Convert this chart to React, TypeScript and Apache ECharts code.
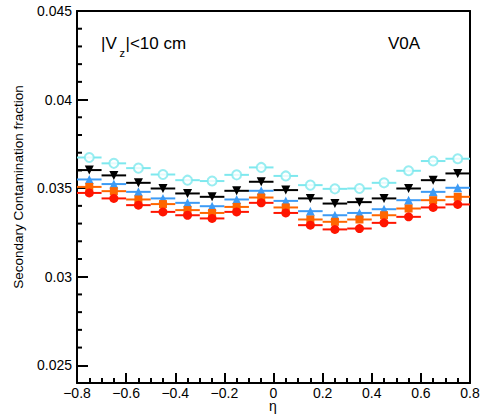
import React, { useEffect, useRef } from "react";
import * as echarts from "echarts";

const etaCenters = [-0.75, -0.65, -0.55, -0.45, -0.35, -0.25, -0.15, -0.05, 0.05, 0.15, 0.25, 0.35, 0.45, 0.55, 0.65, 0.75];
const binHalfWidth = 0.05;

const cyanValues = [0.03673, 0.0364, 0.03613, 0.03577, 0.03545, 0.0354, 0.03575, 0.03617, 0.03569, 0.03517, 0.03496, 0.03498, 0.0353, 0.03598, 0.03653, 0.03666];
const blackValues = [0.03602, 0.03572, 0.0353, 0.03498, 0.0347, 0.03451, 0.03485, 0.03536, 0.03489, 0.03442, 0.03413, 0.03421, 0.03442, 0.03498, 0.03545, 0.03583];
const blueValues = [0.03549, 0.03523, 0.03479, 0.03442, 0.03417, 0.03398, 0.03436, 0.03485, 0.03428, 0.0337, 0.03347, 0.0336, 0.03381, 0.03432, 0.03479, 0.03502];
const orangeValues = [0.03507, 0.03483, 0.03436, 0.0341, 0.03376, 0.0336, 0.03394, 0.03447, 0.03391, 0.03323, 0.0331, 0.03323, 0.03347, 0.03385, 0.03432, 0.03451];
const redValues = [0.03473, 0.03442, 0.03404, 0.03366, 0.03347, 0.03329, 0.03366, 0.03417, 0.0336, 0.03291, 0.03267, 0.03272, 0.03304, 0.03338, 0.03391, 0.03408];

const yMajorTicks = [0.025, 0.03, 0.035, 0.04, 0.045];
const yMinorTicks = [0.024, 0.026, 0.027, 0.028, 0.029, 0.031, 0.032, 0.033, 0.034, 0.036, 0.037, 0.038, 0.039, 0.041, 0.042, 0.043, 0.044];

const seriesDefs = [
  { name: "cyan", values: cyanValues, color: "#7ee8ee", symbol: "emptyCircle", rotate: 0, size: 9 },
  { name: "black", values: blackValues, color: "#000000", symbol: "triangle", rotate: 180, size: 9 },
  { name: "blue", values: blueValues, color: "#3d9bf5", symbol: "triangle", rotate: 0, size: 9 },
  { name: "orange", values: orangeValues, color: "#ff6600", symbol: "rect", rotate: 0, size: 8 },
  { name: "red", values: redValues, color: "#ff1500", symbol: "circle", rotate: 0, size: 9 },
];

const FONT = "Liberation Sans, Arial, Helvetica, sans-serif";

export default function App() {
  const ref = useRef<HTMLDivElement>(null);
  useEffect(() => {
    document.body.style.margin = "0";
    if (!ref.current) return;
    const chart = echarts.init(ref.current, null, { renderer: "svg" });
    const series: any[] = [];
    seriesDefs.forEach((s) => {
      const data = etaCenters.map((x, i) => [x, s.values[i]]);
      series.push({
        type: "custom",
        name: s.name + "-err",
        xAxisIndex: 0,
        yAxisIndex: 0,
        data,
        renderItem: (params: any, api: any) => {
          const x = api.value(0);
          const y = api.value(1);
          const p1 = api.coord([x - binHalfWidth, y]);
          const p2 = api.coord([x + binHalfWidth, y]);
          return {
            type: "line",
            shape: { x1: p1[0], y1: p1[1], x2: p2[0], y2: p2[1] },
            style: { stroke: s.color, lineWidth: 2 },
          };
        },
        z: 2,
      });
      series.push({
        type: "scatter",
        name: s.name,
        xAxisIndex: 0,
        yAxisIndex: 0,
        data,
        symbol: s.symbol,
        symbolRotate: s.rotate,
        symbolSize: s.size,
        itemStyle: s.symbol === "emptyCircle"
          ? { color: s.color, borderColor: s.color, borderWidth: 2 }
          : { color: s.color, opacity: 1 },
        z: 3,
      });
    });
    const fmt = (v: number) => {
      const r = Math.round(v * 10) / 10;
      if (r === 0) return "0";
      return (r < 0 ? "\u2212" : "") + Math.abs(r).toFixed(1);
    };
    const frameAxisCommon = {
      axisTick: { show: false },
      axisLabel: { show: false },
      splitLine: { show: false },
    };
    chart.setOption({
      animation: false,
      grid: { left: 77, right: 10, top: 11, bottom: 34, containLabel: false, outerBoundsMode: "none" },
      xAxis: [
        {
          type: "value",
          min: -0.8,
          max: 0.8,
          interval: 0.2,
          axisLine: { show: true, onZero: false, lineStyle: { color: "#000", width: 2 } },
          axisTick: { show: true, inside: true, length: 10, lineStyle: { color: "#000", width: 2 } },
          minorTick: { show: true, splitNumber: 4, length: 5, lineStyle: { color: "#000", width: 2 } },
          splitLine: { show: false },
          axisLabel: { formatter: fmt, fontSize: 14, color: "#000", fontFamily: FONT, margin: 3 },
        },
        {
          type: "value",
          position: "top",
          min: -0.8,
          max: 0.8,
          axisLine: { show: true, onZero: false, lineStyle: { color: "#000", width: 2 } },
          ...frameAxisCommon,
        },
      ],
      yAxis: [
        {
          type: "value",
          min: 0.024,
          max: 0.045,
          axisLine: { show: true, onZero: false, lineStyle: { color: "#000", width: 2 } },
          axisTick: { show: true, inside: true, length: 11, customValues: yMajorTicks, lineStyle: { color: "#000", width: 2 } },
          axisLabel: {
            customValues: yMajorTicks,
            fontSize: 14,
            color: "#000",
            fontFamily: FONT,
            margin: 5,
            formatter: (v: number) => String(parseFloat(v.toFixed(4))),
          },
          splitLine: { show: false },
        },
        {
          type: "value",
          position: "right",
          min: 0.024,
          max: 0.045,
          axisLine: { show: true, onZero: false, lineStyle: { color: "#000", width: 2 } },
          ...frameAxisCommon,
        },
      ],
      graphic: [
        {
          type: "text",
          x: 273,
          y: 406,
          style: { text: "η", fontSize: 14, fontFamily: FONT, fill: "#000", align: "center", verticalAlign: "middle" },
        },
        {
          type: "text",
          x: 18,
          y: 187,
          rotation: Math.PI / 2,
          style: {
            text: "Secondary Contamination fraction",
            fontSize: 13.5,
            fontFamily: FONT,
            fill: "#000",
            align: "center",
            verticalAlign: "middle",
          },
        },
        {
          type: "text",
          x: 101,
          y: 43,
          style: { text: "|V", fontSize: 17, fontFamily: FONT, fill: "#000", align: "left", verticalAlign: "middle" },
        },
        {
          type: "text",
          x: 119.5,
          y: 53,
          style: { text: "z", fontSize: 11, fontFamily: FONT, fill: "#000", align: "left", verticalAlign: "middle" },
        },
        {
          type: "text",
          x: 125.5,
          y: 43,
          style: { text: "|<10 cm", fontSize: 17, fontFamily: FONT, fill: "#000", align: "left", verticalAlign: "middle" },
        },
        {
          type: "text",
          x: 388,
          y: 43,
          style: { text: "V0A", fontSize: 17, fontFamily: FONT, fill: "#000", align: "left", verticalAlign: "middle" },
        },
      ],
      series: [
        ...series,
        {
          type: "custom",
          name: "y-minor-ticks",
          xAxisIndex: 0,
          yAxisIndex: 0,
          data: yMinorTicks.map((v) => [-0.8, v]),
          silent: true,
          clip: false,
          renderItem: (params: any, api: any) => {
            const p = api.coord([api.value(0), api.value(1)]);
            return {
              type: "line",
              shape: { x1: p[0], y1: p[1], x2: p[0] + 5, y2: p[1] },
              style: { stroke: "#000", lineWidth: 2 },
            };
          },
          z: 5,
        },
      ],
    });
    return () => chart.dispose();
  }, []);
  return <div ref={ref} style={{ width: 480, height: 417 }} />;
}
